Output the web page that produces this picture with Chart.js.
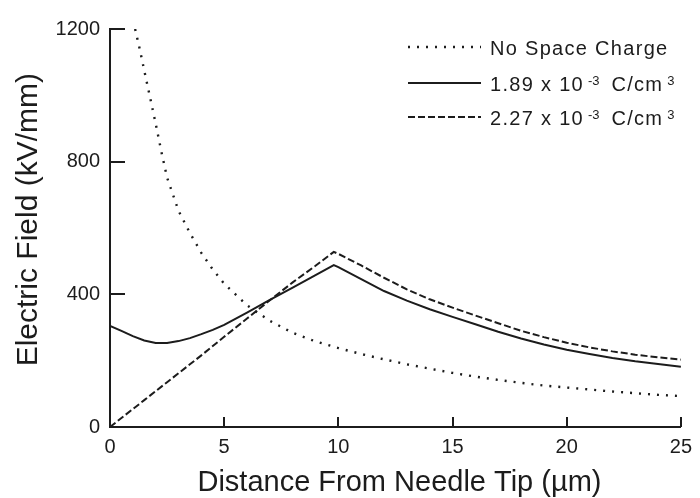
<!DOCTYPE html>
<html>
<head>
<meta charset="utf-8">
<script src="https://cdn.jsdelivr.net/npm/chart.js@4.4.1/dist/chart.umd.min.js"></script>
<style>
  html, body { margin: 0; padding: 0; background: #fff; }
</style>
</head>
<body>
<canvas id="fieldChart" width="700" height="498"></canvas>
<script>
// distance from the needle tip (um) and field (kV/mm)
const noChargeDistance = [1.1, 1.3, 1.5, 1.75, 2, 2.25, 2.5, 3, 3.5, 4, 4.5, 5, 6, 7, 8, 9, 10,
  11, 12, 13, 14, 15, 16, 17, 18, 19, 20, 21, 22, 23, 24, 25];
const noChargeField = [1200, 1140, 1075, 995, 915, 830, 752, 652, 585, 525, 475, 432, 367, 320, 284, 258, 238,
  220, 204, 189, 176, 163, 152, 142, 133, 125, 119, 113, 107, 102, 97, 93];

const chargedDistance = [0, 0.5, 1, 1.5, 2, 2.5, 3, 3.5, 4, 4.5, 5, 6, 7, 8, 9, 9.8,
  10, 11, 12, 13, 14, 15, 16, 17, 18, 19, 20, 21, 22, 23, 24, 25];
const field189 = [305, 290, 274, 261, 253, 253, 259, 268, 280, 293, 308, 345, 383, 420, 458, 488,
  482, 446, 410, 381, 355, 332, 310, 287, 267, 249, 233, 220, 208, 198, 190, 182];
const field227 = [0, 27, 54, 81, 108, 135, 162, 189, 216, 244, 272, 327, 382, 436, 486, 528,
  522, 487, 450, 415, 385, 360, 336, 313, 290, 271, 254, 240, 228, 218, 210, 203];

const seriesLabels = ['No Space Charge', '1.89 x 10^-3 C/cm^3', '2.27 x 10^-3 C/cm^3'];
const xTicks = [0, 5, 10, 15, 20, 25];
const yTicks = [0, 400, 800, 1200];

const ink = '#1c1c1c';
const fontFamily = '"Liberation Sans", Arial, Helvetica, sans-serif';

const toPoints = (xs, ys) => xs.map((x, i) => ({ x: x, y: ys[i] }));

// short tick marks pointing into the plot area
const insideTicks = {
  id: 'insideTicks',
  afterDraw(chart) {
    const { ctx, chartArea, scales } = chart;
    ctx.save();
    ctx.strokeStyle = ink;
    ctx.lineWidth = 2;
    ctx.beginPath();
    yTicks.forEach((v) => {
      const y = Math.round(scales.y.getPixelForValue(v));
      ctx.moveTo(chartArea.left, y);
      ctx.lineTo(chartArea.left + 15, y);
    });
    xTicks.forEach((v) => {
      const x = Math.round(scales.x.getPixelForValue(v));
      ctx.moveTo(x, chartArea.bottom);
      ctx.lineTo(x, chartArea.bottom - 10);
    });
    ctx.stroke();
    ctx.restore();
  }
};

// legend in the upper right, with raised exponents
const seriesKey = {
  id: 'seriesKey',
  afterDraw(chart) {
    const { ctx } = chart;
    const rows = [47, 83, 117];
    const mainFont = '20px ' + fontFamily;
    const supFont = '13px ' + fontFamily;
    ctx.save();
    chart.data.datasets.forEach((ds, i) => {
      const y = rows[i];
      ctx.strokeStyle = ds.borderColor;
      ctx.lineWidth = ds.borderWidth;
      ctx.setLineDash(ds.borderDash || []);
      ctx.beginPath();
      ctx.moveTo(408, y);
      ctx.lineTo(481, y);
      ctx.stroke();

      ctx.setLineDash([]);
      ctx.fillStyle = ink;
      ctx.textBaseline = 'alphabetic';
      let x = 490;
      const base = y + 8;
      const parts = ds.label.split(/(\^\S+)/).filter((p) => p.length);
      parts.forEach((p) => {
        if (p[0] === '^') {
          ctx.font = supFont;
          ctx.letterSpacing = '0px';
          x += 4;
          ctx.fillText(p.slice(1), x, base - 6);
          x += ctx.measureText(p.slice(1)).width + 5;
        } else {
          ctx.font = mainFont;
          ctx.letterSpacing = '1.3px';
          ctx.fillText(p, x, base);
          x += ctx.measureText(p).width;
        }
      });
    });
    ctx.restore();
  }
};

const ctx = document.getElementById('fieldChart').getContext('2d');

new Chart(ctx, {
  type: 'line',
  data: {
    datasets: [
      {
        label: seriesLabels[0],
        data: toPoints(noChargeDistance, noChargeField),
        borderColor: ink,
        borderWidth: 2.4,
        borderDash: [2, 7],
        pointRadius: 0,
        tension: 0
      },
      {
        label: seriesLabels[1],
        data: toPoints(chargedDistance, field189),
        borderColor: ink,
        borderWidth: 2,
        pointRadius: 0,
        tension: 0
      },
      {
        label: seriesLabels[2],
        data: toPoints(chargedDistance, field227),
        borderColor: ink,
        borderWidth: 2,
        borderDash: [7, 3],
        pointRadius: 0,
        tension: 0
      }
    ]
  },
  options: {
    responsive: false,
    animation: false,
    devicePixelRatio: 1,
    layout: { padding: { top: 29, right: 15, left: 0, bottom: 0 } },
    plugins: {
      legend: { display: false },
      tooltip: { enabled: false }
    },
    scales: {
      x: {
        type: 'linear',
        min: 0,
        max: 25,
        afterBuildTicks(scale) {
          scale.ticks = xTicks.map((v) => ({ value: v }));
        },
        afterFit(scale) { scale.height = 71; },
        grid: { display: false, drawTicks: false },
        border: { display: true, color: ink, width: 2 },
        ticks: {
          color: ink,
          padding: 8,
          maxRotation: 0,
          font: { family: fontFamily, size: 20 },
          callback: (v) => String(v)
        },
        title: {
          display: true,
          text: ' Distance From Needle Tip (\u00b5m)',
          color: ink,
          font: { family: fontFamily, size: 29, lineHeight: 1 },
          padding: { top: 0, bottom: 1 }
        }
      },
      y: {
        min: 0,
        max: 1200,
        afterBuildTicks(scale) {
          scale.ticks = yTicks.map((v) => ({ value: v }));
        },
        afterFit(scale) { scale.width = 110; },
        grid: { display: false, drawTicks: false },
        border: { display: true, color: ink, width: 2 },
        ticks: {
          color: ink,
          padding: 10,
          font: { family: fontFamily, size: 20 },
          callback: (v) => String(v)
        },
        title: {
          display: true,
          text: '  Electric Field (kV/mm)',
          color: ink,
          font: { family: fontFamily, size: 30, lineHeight: 1 },
          padding: { top: 14, bottom: 0 }
        }
      }
    }
  },
  plugins: [insideTicks, seriesKey]
});
</script>
</body>
</html>
